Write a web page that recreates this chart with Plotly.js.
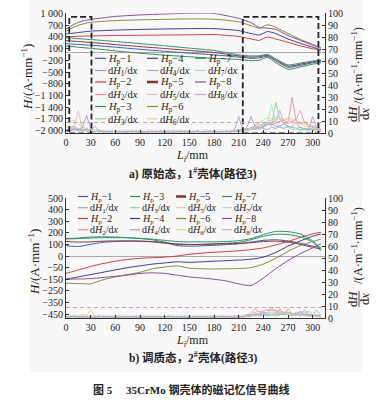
<!DOCTYPE html>
<html><head><meta charset="utf-8">
<script src="https://cdn.plot.ly/plotly-3.0.1.min.js"></script>
<style>html,body{margin:0;padding:0;background:#fff}#chart{width:381px;height:406px}</style>
</head><body><div id="chart"></div>
<script>
// ---------------- data ----------------
const xTicks = [0,30,60,90,120,150,180,210,240,270,300];
const hTickValsA = [1000,700,400,100,-200,-500,-800,-1100,-1400,-1700,-2000];
const hTickTextA = ['1 000','700','400','100','\u2212200','\u2212500','\u2212800','\u22121 100','\u22121 400','\u22121 700','\u22122 000'];
const hTickValsB = [500,400,300,200,100,0,-100,-200,-300,-400,-500];
const hTickTextB = ['500','400','300','200','100','0','\u221250','\u2212150','\u2212250','\u2212350','\u2212450'];
const gTickVals = [0,10,20,30,40,50,60,70,80,90,100];

// panel a: H_p curves
const LH_a = [0,15,30,45,60,90,120,150,180,210,225,235,245,255,270,285,300,310];
const Hp1_a = [225,205,185,160,135,80,30,-20,-60,-120,-150,-140,-100,-215,-380,-330,-265,-230];
const Hp2_a = [395,413,420,428,433,438,445,450,458,408,345,308,395,345,258,170,95,58];
const Hp3_a = [165,135,105,75,40,-20,-70,-110,-150,-180,-210,-200,-125,-260,-430,-370,-300,-260];
const Hp4_a = [470,508,545,558,570,588,600,608,608,558,483,445,533,483,345,233,133,70];
const Hp5_a = [300,278,255,230,200,150,100,50,0,-90,-120,-110,-75,-185,-350,-300,-240,-210];
const Hp6_a = [545,695,770,795,813,833,845,858,850,783,683,620,708,645,483,333,208,120];
const Hp7_a = [375,352,330,305,280,225,170,110,50,-60,-90,-85,-50,-160,-320,-270,-220,-190];
const Hp8_a = [600,770,845,883,920,958,983,1000,995,870,760,640,620,590,433,308,183,108];

// gradient curves (both panels share this L grid)
const Ld = [0,5,10,15,20,25,30,35,40,45,50,55,60,65,70,75,80,85,90,95,100,105,110,115,120,125,130,135,140,145,150,155,160,165,170,175,180,185,190,195,200,205,210,215,220,225,230,235,240,245,250,255,260,265,270,275,280,285,290,295,300,305,310];
const dH1_a = [3,4,6,3,5,15,4,2,2,1, 2,1,2,1,2,1,2,1,2,1, 2,1,2,1,2,1,2,1,2,1, 2,1,2,1,2,1,2,1,2,1, 2,2,3,2,5,14,6,4,5,7, 8,6,5,4,6,5,4,3,4,3, 14,4,2];
const dH2_a = [2,3,2,4,2,3,2,1,2,1, 1,2,1,1,2,1,1,2,1,1, 2,1,1,2,1,1,2,1,1,2, 1,1,2,1,1,2,1,1,2,1, 1,2,2,3,4,3,5,4,6,8, 7,9,10,11,9,30,10,8,9,7, 6,5,3];
const dH3_a = [2,5,3,2,4,2,3,2,1,2, 1,2,1,2,1,1,2,1,2,1, 1,2,1,2,1,2,1,1,2,1, 2,1,2,1,1,2,1,2,1,2, 1,2,3,2,4,3,6,8,5,10, 6,26,12,8,6,5,4,5,3,4, 3,2,2];
const dH4_a = [1,2,4,2,3,2,2,1,3,1, 1,1,2,1,1,1,2,1,1,1, 1,2,1,1,1,2,1,1,2,1, 1,1,2,1,1,1,2,1,1,2, 1,3,14,3,2,4,3,5,4,3, 5,4,6,8,5,6,9,5,4,3, 4,3,2];
const dH5_a = [2,3,5,19,3,2,3,2,1,2, 1,2,1,1,1,2,1,1,1,2, 1,1,2,1,1,1,2,1,1,1, 2,1,1,1,2,1,1,1,2,1, 2,1,2,3,2,4,5,6,8,10, 11,12,12,11,13,12,10,9,8,7, 6,5,4];
const dH6_a = [4,9,11,8,5,4,3,2,2,2, 1,2,1,2,1,2,1,1,2,1, 2,1,1,2,1,2,1,2,1,1, 1,2,1,2,1,1,2,1,2,1, 2,1,2,2,3,4,7,9,11,13, 12,14,13,11,12,10,9,8,6,5, 4,3,3];
const dH7_a = [2,3,2,3,6,3,2,2,1,2, 1,1,2,1,2,1,1,2,1,1, 2,1,1,1,2,1,2,1,1,2, 1,2,1,1,2,1,1,2,1,1, 1,2,1,2,2,3,4,3,8,9, 24,8,6,4,5,3,4,2,3,2, 3,2,2];
const dH8_a = [3,2,4,3,2,4,2,6,2,1, 2,1,2,1,1,2,1,2,1,1, 1,2,1,2,1,1,1,2,1,2, 1,1,2,1,2,1,2,1,1,2, 1,2,2,4,3,5,4,6,7,8, 9,10,19,9,8,10,12,19,9,6, 5,4,3];

// panel b: H_p curves
const LH_b = [0,15,30,45,60,75,90,105,120,135,150,165,180,195,210,225,240,255,270,285,300,310];
const Hp1_b = [89,82,100,118,125,128,128,125,115,90,85,88,92,98,105,120,135,140,130,110,85,75];
const Hp2_b = [-150,-120,-90,-65,-45,-30,-20,-15,-10,0,15,25,32,38,45,55,70,95,125,160,190,205];
const Hp3_b = [150,155,163,165,163,158,150,140,120,100,98,100,105,110,118,140,170,188,185,165,120,45];
const Hp4_b = [-200,-180,-160,-140,-120,-100,-85,-70,-60,-50,-55,-50,-45,-40,-35,-28,-10,30,85,130,170,190];
const Hp5_b = [125,120,122,128,130,130,128,122,110,105,100,100,102,105,108,115,125,128,120,100,75,60];
const Hp6_b = [-235,-238,-240,-205,-180,-160,-140,-110,-95,-85,-105,-110,-112,-110,-108,-100,-70,-20,40,90,125,145];
const Hp7_b = [147,150,155,158,158,157,152,145,135,125,122,122,122,125,132,150,185,212,210,190,130,65];
const Hp8_b = [-200,-198,-195,-185,-175,-165,-150,-145,-150,-165,-180,-190,-200,-215,-240,-255,-190,-110,-40,20,70,105];

const dH1_b = [1,1,2,1,1,1,2,1,1,1, 1,1,1,2,1,1,1,1,2,1, 1,1,1,1,1,2,1,1,1,1, 2,1,1,1,1,1,2,1,1,1, 1,1,2,1,2,3,2,4,3,2, 3,4,3,5,3,4,3,6,3,2, 3,2,2];
const dH2_b = [1,2,1,1,2,1,1,1,2,1, 1,1,2,1,1,1,1,2,1,1, 1,2,1,1,1,1,2,1,1,1, 1,1,1,2,1,1,1,1,2,1, 1,2,1,2,3,4,8,5,6,7, 7,6,6,5,5,4,4,3,3,2, 2,2,1];
const dH3_b = [1,1,1,2,1,1,1,1,1,2, 1,1,1,1,2,1,1,1,1,1, 2,1,1,1,1,1,1,2,1,1, 1,1,2,1,1,1,1,1,2,1, 1,1,1,2,1,2,3,2,4,2, 3,2,3,4,3,2,3,2,4,6, 3,7,2];
const dH4_b = [1,1,2,1,1,2,1,1,1,1, 2,1,1,1,1,1,2,1,1,1, 1,1,2,1,1,1,1,1,2,1, 1,1,1,1,2,1,1,1,1,2, 1,1,2,1,2,2,3,2,3,4, 3,4,8,3,4,3,5,3,7,3, 2,3,2];
const dH5_b = [1,1,1,2,1,1,1,1,2,1, 1,1,1,1,1,2,1,1,1,1, 1,1,1,2,1,1,1,1,1,2, 1,1,1,1,1,1,2,1,1,1, 2,1,1,2,2,3,5,6,6,7, 6,7,6,5,5,4,4,4,3,3, 3,2,2];
const dH6_b = [1,2,1,2,3,2,7,2,1,1, 1,1,2,1,1,1,1,1,2,1, 1,1,1,1,2,1,1,1,1,1, 2,1,1,1,1,2,1,1,1,1, 1,2,1,2,2,3,3,4,5,4, 5,4,5,4,4,3,3,3,2,2, 2,2,1];
const dH7_b = [1,1,1,1,2,1,1,2,1,1, 1,2,1,1,1,1,1,2,1,1, 1,1,2,1,1,1,1,1,1,2, 1,1,1,1,2,1,1,1,1,1, 2,1,1,1,2,2,3,2,4,3, 3,3,4,3,3,2,3,2,3,4, 2,3,2];
const dH8_b = [1,1,2,1,1,1,1,1,2,1, 1,1,1,1,2,1,1,1,1,2, 1,1,1,1,1,2,1,1,1,1, 1,2,1,1,1,1,1,2,1,1, 1,1,2,1,3,2,4,3,5,4, 9,5,4,3,8,4,3,5,3,3, 2,2,2];

const threshold_a = 9;
const threshold_b = 9;
const boxesA = [[4,31],[215,307]];   // dashed inspection windows (L range)
const boxTop = 97;

// ---------------- styling ----------------
const W = 381, Hh = 406;
const px = x => x / W;
const py = y => 1 - y / Hh;
const SERIF = 'Liberation Serif, DejaVu Serif, serif';
const CJK = 'Liberation Serif, Noto Sans CJK SC, sans-serif';
const hColors = ['#3d5cb0','#d63c3e','#2f8f4f','#3c3c8e','#8b3535','#8a8a34','#2f9078','#8a4c9c'];
const dColors = ['#8ea4dc','#f08d96','#8fd0a0','#a2a2da','#e8bcbc','#d6d688','#a6dccb','#c9a2da'];

const HA = [Hp1_a,Hp2_a,Hp3_a,Hp4_a,Hp5_a,Hp6_a,Hp7_a,Hp8_a];
const DA = [dH1_a,dH2_a,dH3_a,dH4_a,dH5_a,dH6_a,dH7_a,dH8_a];
const HB = [Hp1_b,Hp2_b,Hp3_b,Hp4_b,Hp5_b,Hp6_b,Hp7_b,Hp8_b];
const DB = [dH1_b,dH2_b,dH3_b,dH4_b,dH5_b,dH6_b,dH7_b,dH8_b];

const traces = [];
for (let i = 0; i < 8; i++) traces.push({x: Ld, y: DA[i], xaxis:'x', yaxis:'y2', mode:'lines', line:{color:dColors[i], width:0.9}, hoverinfo:'skip'});
for (let i = 0; i < 8; i++) traces.push({x: LH_a, y: HA[i], xaxis:'x', yaxis:'y', mode:'lines', line:{color:hColors[i], width:1, shape:'spline', smoothing:0.6}, hoverinfo:'skip'});
for (let i = 0; i < 8; i++) traces.push({x: Ld, y: DB[i], xaxis:'x2', yaxis:'y4', mode:'lines', line:{color:dColors[i], width:0.9}, hoverinfo:'skip'});
for (let i = 0; i < 8; i++) traces.push({x: LH_b, y: HB[i], xaxis:'x2', yaxis:'y3', mode:'lines', line:{color:hColors[i], width:1, shape:'spline', smoothing:0.6}, hoverinfo:'skip'});

const tickFont = {family: SERIF, size: 10, color: '#222'};
function xAx(anchor) {
  return {domain:[px(66), px(325)], anchor, range:[0,315], tickvals:xTicks, ticks:'inside', ticklen:3,
    tickcolor:'#333', showline:true, linecolor:'#333', linewidth:1, showgrid:false, zeroline:false,
    tickfont:tickFont, fixedrange:true};
}
function yLeft(anchor, top, bot, range, vals, text) {
  return {domain:[py(bot), py(top)], anchor, range, tickvals:vals, ticktext:text, ticks:'inside', ticklen:3,
    tickcolor:'#333', showline:true, linecolor:'#333', linewidth:1, showgrid:false,
    zeroline:true, zerolinecolor:'#a8a8a8', zerolinewidth:1, tickfont:tickFont, fixedrange:true};
}
function yRight(over, anchor) {
  return {overlaying:over, side:'right', anchor, range:[0,100], tickvals:gTickVals, ticks:'inside', ticklen:3,
    tickcolor:'#333', showline:true, linecolor:'#333', linewidth:1, showgrid:false, zeroline:false,
    tickfont:tickFont, fixedrange:true};
}

const shapes = [];
const annotations = [];
function ann(text, x, y, o) {
  annotations.push(Object.assign({text, x:px(x), y:py(y), xref:'paper', yref:'paper', showarrow:false,
    xanchor:'center', yanchor:'middle', borderpad:0, font:{family:SERIF, size:11, color:'#222'}}, o || {}));
}
// faint figure background
shapes.push({type:'rect', xref:'paper', yref:'paper', x0:px(30), x1:px(362), y0:py(372), y1:py(0), fillcolor:'#f8f8f8', line:{width:0}, layer:'below'});
// dashed boxes panel a
boxesA.forEach(b => shapes.push({type:'rect', xref:'x', yref:'y2', x0:b[0], x1:b[1], y0:0, y1:boxTop,
  line:{color:'#222', width:1.8, dash:'6px,3px'}}));
// thresholds
shapes.push({type:'line', xref:'x', yref:'y2', x0:0, x1:315, y0:threshold_a, y1:threshold_a, line:{color:'#e39aa2', width:1, dash:'4px,3px'}});
shapes.push({type:'line', xref:'x2', yref:'y4', x0:0, x1:315, y0:threshold_b, y1:threshold_b, line:{color:'#e39aa2', width:1, dash:'4px,3px'}});

// legends
function legendEntry(i, isD, sx0, sx1, y, fs) {
  const col = isD ? dColors[i] : hColors[i];
  const w = (!isD && i === 4) ? 2.6 : 1.2;
  shapes.push({type:'line', xref:'paper', yref:'paper', x0:px(sx0), x1:px(sx1), y0:py(y), y1:py(y), line:{color:col, width:w}});
  const txt = isD ? 'd<i>H</i><sub>' + (i+1) + '</sub>/d<i>x</i>' : '<i>H</i><sub>p</sub>\u2212' + (i+1);
  ann(txt, sx1 + 1, isD ? y + 1.2 : y + 0.8, {xanchor:'left', font:{family:SERIF, size:fs, color:'#222'}});
}
// panel a: 3 columns
const rowsA = [58.3, 70.5, 82, 94.5, 106.5, 118.8];
const colsA = [[95,106],[147,158],[195,206]];
for (let k = 0; k < 16; k++) {
  const c = Math.floor(k / 6), r = k % 6;
  legendEntry(Math.floor(k / 2), k % 2 === 1, colsA[c][0], colsA[c][1], rowsA[r], 10.5);
}
// panel b: 4 columns
const rowsB = [196.5, 207.7, 218.5, 229.7];
const colsB = [[78,88],[130,140],[176,186],[222,232]];
for (let k = 0; k < 16; k++) {
  const c = Math.floor(k / 4), r = k % 4;
  legendEntry(Math.floor(k / 2), k % 2 === 1, colsB[c][0], colsB[c][1], rowsB[r], 10);
}

// axis titles
ann('<i>H</i>/(A\u00b7mm<sup>\u22121</sup>)', 27, 77, {textangle:-90, font:{family:SERIF, size:13, color:'#222'}});
ann('<i>H</i>/(A\u00b7mm<sup>\u22121</sup>)', 34, 262, {textangle:-90, font:{family:SERIF, size:13, color:'#222'}});
function rightTitle(yRest, yFrac) {
  ann('/(A\u00b7m<sup>\u22121</sup>\u00b7mm<sup>\u22121</sup>)', 357, yRest, {textangle:-90, font:{family:SERIF, size:12.5, color:'#222'}});
  ann('d<i>H</i>', 353, yFrac, {textangle:-90, font:{family:SERIF, size:12.5, color:'#222'}});
  ann('d<i>x</i>', 365, yFrac, {textangle:-90, font:{family:SERIF, size:12.5, color:'#222'}});
  shapes.push({type:'line', xref:'paper', yref:'paper', x0:px(359), x1:px(359), y0:py(yFrac-8), y1:py(yFrac+8), line:{color:'#222', width:0.8}});
}
rightTitle(66, 114);
rightTitle(246, 299);
ann('<i>L</i><sub><i>i</i></sub>/mm', 193, 156, {font:{family:SERIF, size:12, color:'#222'}});
ann('<i>L</i><sub><i>i</i></sub>/mm', 193, 341, {font:{family:SERIF, size:12, color:'#222'}});
// captions
ann('<b>a) 原始态，1<sup>#</sup>壳体(路径3)</b>', 193, 173, {font:{family:CJK, size:11.5, color:'#222'}});
ann('<b>b) 调质态，2<sup>#</sup>壳体(路径3)</b>', 193, 357.5, {font:{family:CJK, size:11.5, color:'#222'}});
ann('<b>图 5\u2003 35CrMo 钢壳体的磁记忆信号曲线</b>', 191, 389.5, {font:{family:CJK, size:11, color:'#222'}});

const layout = {
  width: W, height: Hh, margin:{l:0, r:0, t:0, b:0},
  paper_bgcolor:'#ffffff', plot_bgcolor:'rgba(0,0,0,0)', showlegend:false,
  xaxis: xAx('y'),
  yaxis: yLeft('x', 13.3, 133.3, [-2066, 1000], hTickValsA, hTickTextA),
  yaxis2: yRight('y', 'x'),
  xaxis2: xAx('y3'),
  yaxis3: yLeft('x2', 198, 318.3, [-537, 500], hTickValsB, hTickTextB),
  yaxis4: yRight('y3', 'x2'),
  shapes, annotations
};
Plotly.newPlot('chart', traces, layout, {staticPlot:true, displayModeBar:false});
</script></body></html>
